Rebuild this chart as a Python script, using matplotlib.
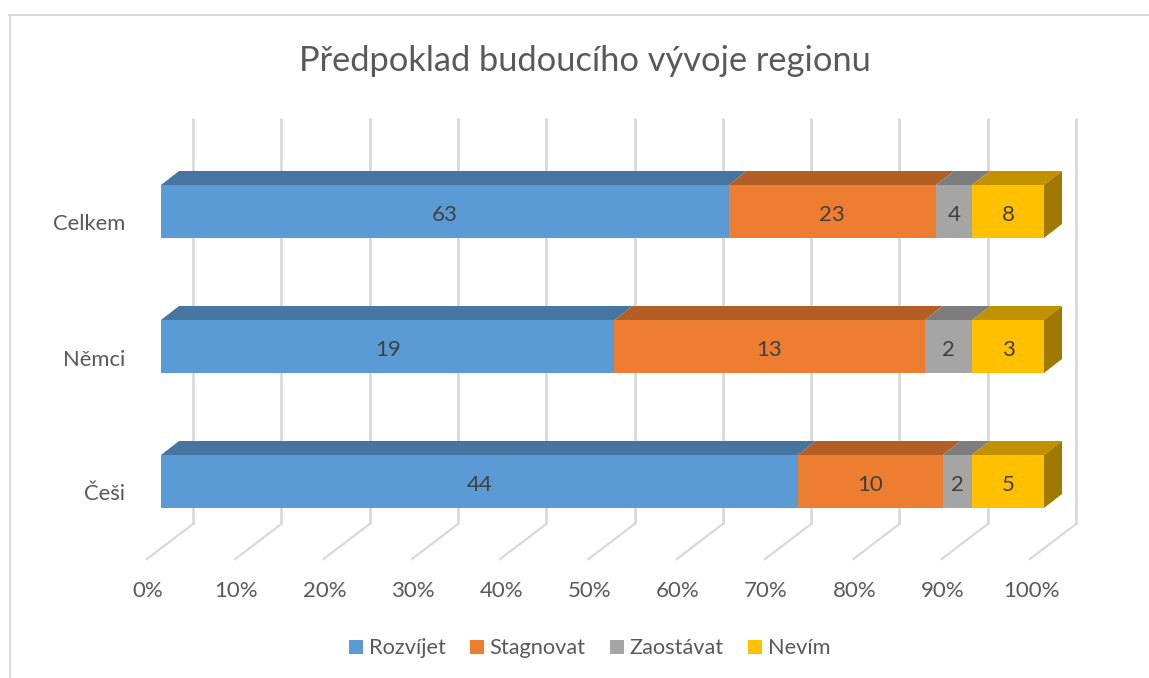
import matplotlib
matplotlib.use("Agg")
import matplotlib.pyplot as plt
from matplotlib.patches import Polygon, Patch
from matplotlib.lines import Line2D

plt.rcParams['font.family'] = ['Lato', 'DejaVu Sans']

categories = ["Češi", "Němci", "Celkem"]
series_names = ["Rozvíjet", "Stagnovat", "Zaostávat", "Nevím"]
rozvijet = [44, 19, 63]
stagnovat = [10, 13, 23]
zaostavat = [2, 2, 4]
nevim = [5, 3, 8]
series = [rozvijet, stagnovat, zaostavat, nevim]
front_colors = ["#5B9BD5", "#ED7D31", "#A5A5A5", "#FFC000"]
top_colors = ["#4675A0", "#B35E25", "#7D7D7D", "#C19100"]
side_color = "#A07A00"
tick_values = [0, 10, 20, 30, 40, 50, 60, 70, 80, 90, 100]

W, H = 1149, 678
fig = plt.figure(figsize=(W / 100, H / 100), dpi=100)
fig.patch.set_facecolor("white")

# axes frame: x 161..1044 px holds 0..100 %; y 118..524 px holds the categories
L, R, T, B = 161, 1044, 118, 524
ax = fig.add_axes([L / W, 1 - B / H, (R - L) / W, (B - T) / H])
PX = 100 / (R - L)          # percent per pixel
PY = 1 / 135                # category unit per pixel
ax.set_xlim(0, 100)
ax.set_ylim(-(B - 481.5) * PY, (481.5 - T) * PY)
ax.axis("off")

bar_h = 53 * PY
dx3, dy3 = 18 * PX, 14 * PY          # bar depth
gx, gy_low = 32 * PX, ax.get_ylim()[0]  # back wall offset
fx, fy = -46 * PX, -35 * PY          # floor line run

grid_c = "#D9D9D9"
for v in tick_values:
    xb = v + gx
    ax.plot([xb, xb], [ax.get_ylim()[1], gy_low], color=grid_c, lw=2, clip_on=False,
            solid_capstyle="butt", zorder=1)
    ax.plot([xb, xb + fx], [gy_low, gy_low + fy], color=grid_c, lw=1.6, clip_on=False, zorder=1)
    ax.annotate(f"{v}%", xy=(xb + fx, gy_low + fy), xytext=(1, -32),
                textcoords="offset pixels", ha="center", va="center",
                fontsize=16, color="#595959", annotation_clip=False)

for i, cat in enumerate(categories):
    total = sum(s[i] for s in series)
    left = 0.0
    lo, hi = i - bar_h / 2, i + bar_h / 2
    for s, fc, tc in zip(series, front_colors, top_colors):
        w = s[i] / total * 100
        ax.barh(i, w, left=left, height=bar_h, color=fc, linewidth=0, zorder=3)
        ax.add_patch(Polygon([(left, hi), (left + w, hi), (left + w + dx3, hi + dy3), (left + dx3, hi + dy3)],
                             closed=True, facecolor=tc, edgecolor="none", zorder=2.5, clip_on=False))
        ax.text(left + w / 2, i - 3.5 * PY, str(s[i]), ha="center", va="center",
                fontsize=16, color="#404040", zorder=4)
        left += w
    ax.add_patch(Polygon([(100, lo), (100 + dx3, lo + dy3), (100 + dx3, hi + dy3), (100, hi)],
                         closed=True, facecolor=side_color, edgecolor="none", zorder=2.6, clip_on=False))
    ax.annotate(cat, xy=(0, i), xytext=(-36, -19), textcoords="offset pixels",
                ha="right", va="baseline", fontsize=15.8, color="#595959", annotation_clip=False)

fig.text(585 / W, 1 - 61 / H, "Předpoklad budoucího vývoje regionu",
         ha="center", va="center", fontsize=24.75, color="#595959")

# chart border (top and left edges are what shows)
fig.add_artist(Line2D([9.5 / W, 9.5 / W], [0, 1 - 15 / H], color=grid_c, lw=1.4))
fig.add_artist(Line2D([9 / W, 1 / 1], [1 - 15 / H, 1 - 15 / H], color=grid_c, lw=1.4))

handles = [Patch(facecolor=c, edgecolor="none", label=n) for c, n in zip(front_colors, series_names)]
fig.legend(handles=handles, loc="center", bbox_to_anchor=(589.5 / W, 1 - 648.5 / H), ncol=4, frameon=False,
           fontsize=15.7, labelcolor="#595959", handlelength=0.64, handleheight=0.64,
           handletextpad=0.28, columnspacing=1.1)

fig.savefig("out.png", dpi=100)
